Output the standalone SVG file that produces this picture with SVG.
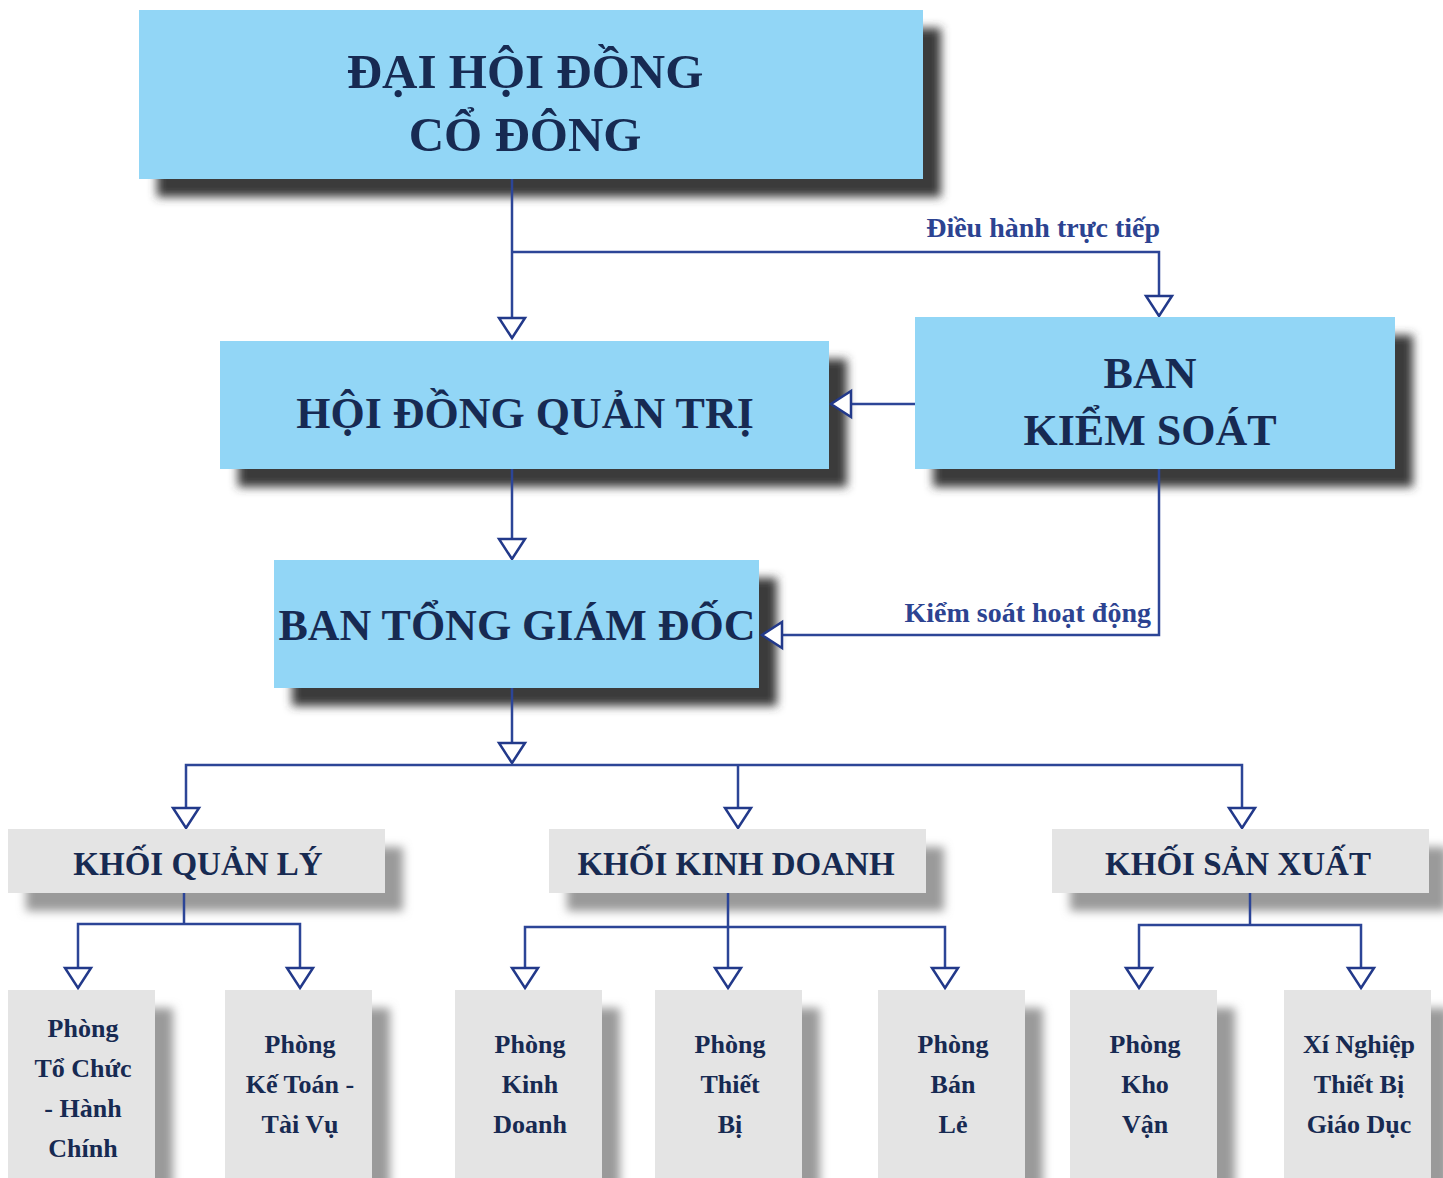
<svg xmlns="http://www.w3.org/2000/svg" width="1443" height="1178" viewBox="0 0 1443 1178">
<style>
.blue{fill:#92d6f6}
.gray{fill:#e4e4e4}
.t{font-family:"Liberation Serif","DejaVu Serif",serif;font-weight:bold;fill:#172a52;text-anchor:middle}
.big{font-size:49px}
.mid{font-size:44px}
.kh{font-size:33px}
.sm{font-size:26px}
.lbl{font-family:"Liberation Serif","DejaVu Serif",serif;font-weight:bold;font-size:28px;fill:#2c4391}
.ln{fill:none;stroke:#2c4597;stroke-width:2.5}
</style>
<defs>
<filter id="sd" x="-10%" y="-20%" width="130%" height="150%">
<feGaussianBlur stdDeviation="5"/>
</filter>
<marker id="ar" markerWidth="26" markerHeight="32" viewBox="-23 -16 26 32" refX="0" refY="0" orient="auto-start-reverse" markerUnits="userSpaceOnUse">
<path d="M0,0 L-20,-13 L-20,13 Z" fill="#fff" stroke="#22398a" stroke-width="2.5"/>
</marker>
</defs>
<rect width="1443" height="1178" fill="#fff"/>

<g id="shadows">
<rect x="157" y="28" width="784" height="169" fill="#3a3a3a" filter="url(#sd)"/>
<rect x="238" y="359" width="609" height="128" fill="#3a3a3a" filter="url(#sd)"/>
<rect x="933" y="335" width="480" height="152" fill="#3a3a3a" filter="url(#sd)"/>
<rect x="292" y="578" width="485" height="128" fill="#3a3a3a" filter="url(#sd)"/>
<rect x="26" y="847" width="377" height="64" fill="#9a9a9a" filter="url(#sd)"/>
<rect x="567" y="847" width="377" height="64" fill="#9a9a9a" filter="url(#sd)"/>
<rect x="1070" y="847" width="377" height="64" fill="#9a9a9a" filter="url(#sd)"/>
<rect x="26" y="1008" width="147" height="190" fill="#9a9a9a" filter="url(#sd)"/>
<rect x="243" y="1008" width="147" height="190" fill="#9a9a9a" filter="url(#sd)"/>
<rect x="473" y="1008" width="147" height="190" fill="#9a9a9a" filter="url(#sd)"/>
<rect x="673" y="1008" width="147" height="190" fill="#9a9a9a" filter="url(#sd)"/>
<rect x="896" y="1008" width="147" height="190" fill="#9a9a9a" filter="url(#sd)"/>
<rect x="1088" y="1008" width="147" height="190" fill="#9a9a9a" filter="url(#sd)"/>
<rect x="1302" y="1008" width="147" height="190" fill="#9a9a9a" filter="url(#sd)"/>
</g>

<g id="connectors">
<path class="ln" d="M512,179 V338" marker-end="url(#ar)"/>
<path class="ln" d="M512,252 H1159 V316" marker-end="url(#ar)"/>
<path class="ln" d="M915,404 H831" marker-end="url(#ar)"/>
<path class="ln" d="M512,469 V559" marker-end="url(#ar)"/>
<path class="ln" d="M1159,469 V635 H762" marker-end="url(#ar)"/>
<path class="ln" d="M512,688 V763" marker-end="url(#ar)"/>
<path class="ln" d="M186,828 V765 H1242 V828" marker-start="url(#ar)" marker-end="url(#ar)"/>
<path class="ln" d="M738,765 V828" marker-end="url(#ar)"/>
<path class="ln" d="M184,893 V924"/>
<path class="ln" d="M78,988 V924 H300 V988" marker-start="url(#ar)" marker-end="url(#ar)"/>
<path class="ln" d="M728,893 V988" marker-end="url(#ar)"/>
<path class="ln" d="M525,988 V927 H945 V988" marker-start="url(#ar)" marker-end="url(#ar)"/>
<path class="ln" d="M1250,893 V925"/>
<path class="ln" d="M1139,988 V925 H1361 V988" marker-start="url(#ar)" marker-end="url(#ar)"/>
<text class="lbl" x="1160" y="237" text-anchor="end">Điều hành trực tiếp</text>
<text class="lbl" x="1151" y="622" text-anchor="end">Kiểm soát hoạt động</text>
</g>

<g id="dai-hoi-dong-co-dong">
<rect class="blue" x="139" y="10" width="784" height="169"/>
<text class="t big" x="525" y="88">ĐẠI HỘI ĐỒNG</text>
<text class="t big" x="525" y="151">CỔ ĐÔNG</text>
</g>
<g id="hoi-dong-quan-tri">
<rect class="blue" x="220" y="341" width="609" height="128"/>
<text class="t mid" x="525" y="428">HỘI ĐỒNG QUẢN TRỊ</text>
</g>
<g id="ban-kiem-soat">
<rect class="blue" x="915" y="317" width="480" height="152"/>
<text class="t mid" x="1150" y="388">BAN</text>
<text class="t mid" x="1150" y="445">KIỂM SOÁT</text>
</g>
<g id="ban-tong-giam-doc">
<rect class="blue" x="274" y="560" width="485" height="128"/>
<text class="t mid" x="517" y="640">BAN TỔNG GIÁM ĐỐC</text>
</g>
<g id="khoi-quan-ly">
<rect class="gray" x="8" y="829" width="377" height="64"/>
<text class="t kh" x="198" y="875">KHỐI QUẢN LÝ</text>
</g>
<g id="khoi-kinh-doanh">
<rect class="gray" x="549" y="829" width="377" height="64"/>
<text class="t kh" x="736" y="875">KHỐI KINH DOANH</text>
</g>
<g id="khoi-san-xuat">
<rect class="gray" x="1052" y="829" width="377" height="64"/>
<text class="t kh" x="1238" y="875">KHỐI SẢN XUẤT</text>
</g>
<g id="phong-to-chuc-hanh-chinh">
<rect class="gray" x="8" y="990" width="147" height="190"/>
<text class="t sm" x="83" y="1037">Phòng</text>
<text class="t sm" x="83" y="1077">Tổ Chức</text>
<text class="t sm" x="83" y="1117">- Hành</text>
<text class="t sm" x="83" y="1157">Chính</text>
</g>
<g id="phong-ke-toan-tai-vu">
<rect class="gray" x="225" y="990" width="147" height="190"/>
<text class="t sm" x="300" y="1053">Phòng</text>
<text class="t sm" x="300" y="1093">Kế Toán -</text>
<text class="t sm" x="300" y="1133">Tài Vụ</text>
</g>
<g id="phong-kinh-doanh">
<rect class="gray" x="455" y="990" width="147" height="190"/>
<text class="t sm" x="530" y="1053">Phòng</text>
<text class="t sm" x="530" y="1093">Kinh</text>
<text class="t sm" x="530" y="1133">Doanh</text>
</g>
<g id="phong-thiet-bi">
<rect class="gray" x="655" y="990" width="147" height="190"/>
<text class="t sm" x="730" y="1053">Phòng</text>
<text class="t sm" x="730" y="1093">Thiết</text>
<text class="t sm" x="730" y="1133">Bị</text>
</g>
<g id="phong-ban-le">
<rect class="gray" x="878" y="990" width="147" height="190"/>
<text class="t sm" x="953" y="1053">Phòng</text>
<text class="t sm" x="953" y="1093">Bán</text>
<text class="t sm" x="953" y="1133">Lẻ</text>
</g>
<g id="phong-kho-van">
<rect class="gray" x="1070" y="990" width="147" height="190"/>
<text class="t sm" x="1145" y="1053">Phòng</text>
<text class="t sm" x="1145" y="1093">Kho</text>
<text class="t sm" x="1145" y="1133">Vận</text>
</g>
<g id="xi-nghiep-thiet-bi-giao-duc">
<rect class="gray" x="1284" y="990" width="147" height="190"/>
<text class="t sm" x="1359" y="1053">Xí Nghiệp</text>
<text class="t sm" x="1359" y="1093">Thiết Bị</text>
<text class="t sm" x="1359" y="1133">Giáo Dục</text>
</g>
</svg>
